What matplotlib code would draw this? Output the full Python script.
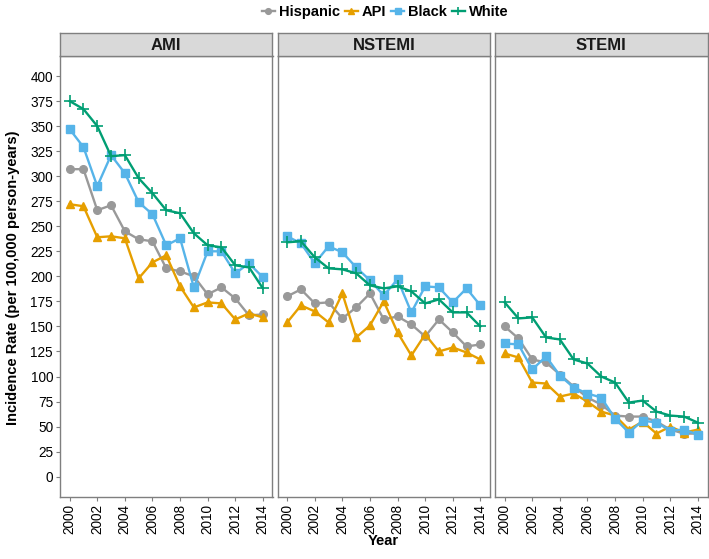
import matplotlib
matplotlib.use("Agg")
import matplotlib.pyplot as plt

plt.rcParams['font.family'] = ['Liberation Sans', 'DejaVu Sans']

years = list(range(2000, 2015))
panels = ["AMI", "NSTEMI", "STEMI"]
groups = ["Hispanic", "API", "Black", "White"]

# incidence rate per 100,000 person-years
ami_hispanic = [307, 307, 266, 271, 245, 237, 235, 208, 205, 200, 182, 189, 178, 161, 162]
ami_api      = [272, 270, 239, 240, 238, 198, 214, 221, 190, 169, 174, 173, 157, 163, 159]
ami_black    = [347, 329, 290, 321, 303, 274, 262, 231, 238, 189, 225, 225, 203, 213, 199]
ami_white    = [375, 367, 350, 320, 321, 298, 283, 266, 263, 243, 231, 229, 211, 209, 188]

nstemi_hispanic = [180, 187, 173, 174, 158, 169, 183, 157, 160, 152, 140, 157, 144, 130, 132]
nstemi_api      = [154, 171, 165, 154, 183, 139, 151, 175, 144, 121, 142, 125, 129, 124, 117]
nstemi_black    = [240, 233, 213, 230, 224, 209, 196, 181, 197, 164, 190, 189, 174, 188, 171]
nstemi_white    = [234, 235, 219, 208, 207, 203, 191, 188, 190, 185, 173, 177, 164, 164, 150]

stemi_hispanic = [150, 138, 117, 114, 102, 90, 79, 72, 61, 60, 60, 55, 47, 43, 43]
stemi_api      = [123, 119, 94, 93, 80, 83, 75, 65, 61, 47, 55, 43, 50, 44, 47]
stemi_black    = [133, 132, 107, 120, 101, 89, 83, 79, 58, 44, 56, 54, 46, 47, 42]
stemi_white    = [174, 158, 159, 139, 137, 117, 113, 100, 94, 74, 76, 65, 61, 60, 54]

data = {
    "AMI": [ami_hispanic, ami_api, ami_black, ami_white],
    "NSTEMI": [nstemi_hispanic, nstemi_api, nstemi_black, nstemi_white],
    "STEMI": [stemi_hispanic, stemi_api, stemi_black, stemi_white],
}

colors = ["#999999", "#E69F00", "#56B4E9", "#009E73"]
markers = ["o", "^", "s", "+"]
msizes = [5.5, 6, 5.5, 8]

fig = plt.figure(figsize=(7.09, 5.59), dpi=100)

W, H = 709.0, 559.0
left0 = 60
pw = 212.5
gap = 5
bottom = (H - 496.7) / H
height = (496.7 - 56) / H
strip_h = 23.3 / H
frame_col = "#7F7F7F"

handles = []
for i, name in enumerate(panels):
    x0 = (left0 + i * (pw + gap)) / W
    ax = fig.add_axes([x0, bottom, pw / W, height])
    for j, g in enumerate(groups):
        h, = ax.plot(years, data[name][j], color=colors[j], marker=markers[j],
                     markersize=msizes[j], linewidth=1.7,
                     markeredgewidth=1.0 if markers[j] != "+" else 1.2, label=g)
        if i == 0:
            handles.append(h)
    ax.set_xlim(1999.3, 2014.7)
    ax.set_ylim(-20, 420)
    ax.set_xticks(range(2000, 2015, 2))
    ax.set_xticklabels([str(y) for y in range(2000, 2015, 2)], rotation=90, fontsize=9.8)
    ax.set_yticks(range(0, 401, 25))
    if i == 0:
        ax.set_yticklabels([str(v) for v in range(0, 401, 25)], fontsize=9.8)
        ax.tick_params(axis="y", length=3, color=frame_col, width=0.8, pad=2)
    else:
        ax.tick_params(axis="y", left=False, labelleft=False)
    ax.tick_params(axis="x", length=3, color=frame_col, width=0.8, pad=2)
    for sp in ax.spines.values():
        sp.set_color(frame_col)
        sp.set_linewidth(1.0)

    sax = fig.add_axes([x0, bottom + height, pw / W, strip_h])
    sax.set_facecolor("#D9D9D9")
    sax.set_xticks([])
    sax.set_yticks([])
    for sp in sax.spines.values():
        sp.set_color(frame_col)
        sp.set_linewidth(1.0)
    sax.text(0.5, 0.45, name, ha="center", va="center", fontsize=12,
             fontweight="bold", color="#1A1A1A", transform=sax.transAxes)

fig.legend(handles=handles, loc="center", bbox_to_anchor=(385 / W, 1 - 12 / H),
           ncol=4, frameon=False, prop={"weight": "bold", "size": 10.5},
           handlelength=0.9, handletextpad=0.25, columnspacing=0.35,
           markerscale=0.75, borderaxespad=0)

fig.text(13 / W, (559 - 278) / H, "Incidence Rate (per 100,000 person-years)",
         rotation=90, ha="center", va="center", fontsize=10.5, fontweight="bold")
fig.text(383 / W, 1 - 541 / H, "Year", ha="center", va="center",
         fontsize=10.5, fontweight="bold")

fig.savefig("out.png", dpi=100)
